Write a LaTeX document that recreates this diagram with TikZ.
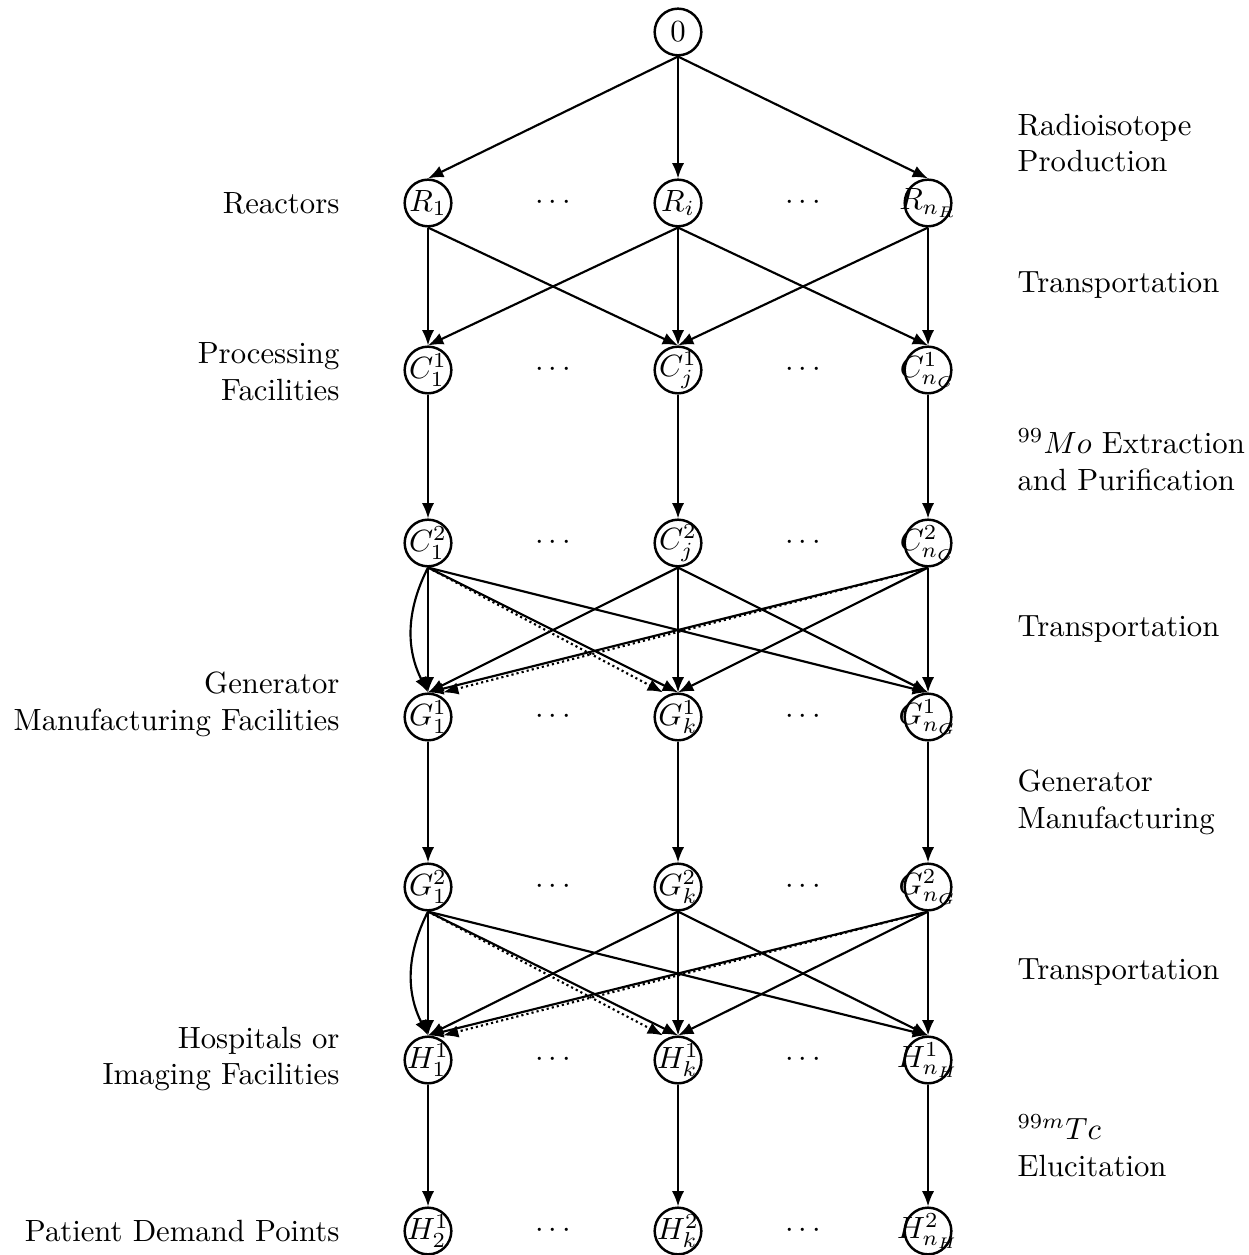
\documentclass[tikz,border=0pt]{standalone}
\usetikzlibrary{arrows.meta}
\newcommand{\vlab}[1]{\makebox[0pt][c]{$#1$}}
\begin{document}
\begin{tikzpicture}[x=0.3257pt,y=-0.3257pt,
  vnode/.style={circle,draw,line width=0.8pt,minimum size=15.2pt,inner sep=0pt},
  edge/.style={-{Latex[length=5pt,width=4pt]},line width=0.7pt},
  dotedge/.style={edge,densely dotted},
  lefttext/.style={anchor=east,align=right,inner sep=0pt},
  righttext/.style={anchor=west,align=left,inner sep=0pt}]
\useasboundingbox (0,0) rectangle (1248,1255);
% nodes
\node[vnode] (O) at (678,32) {\vlab{0}};
\node[vnode] (R1) at (428,203) {\vlab{R_1}};
\node[vnode] (Ri) at (678,203) {\vlab{R_i}};
\node[vnode] (Rn) at (928,203) {\vlab{R_{n_R}}};
\node[vnode] (C11) at (428,370) {\vlab{C^1_1}};
\node[vnode] (C1j) at (678,370) {\vlab{C^1_j}};
\node[vnode] (C1n) at (928,370) {\vlab{C^1_{n_C}}};
\node[vnode] (C21) at (428,543) {\vlab{C^2_1}};
\node[vnode] (C2j) at (678,543) {\vlab{C^2_j}};
\node[vnode] (C2n) at (928,543) {\vlab{C^2_{n_C}}};
\node[vnode] (G11) at (428,717) {\vlab{G^1_1}};
\node[vnode] (G1k) at (678,717) {\vlab{G^1_k}};
\node[vnode] (G1n) at (928,717) {\vlab{G^1_{n_G}}};
\node[vnode] (G21) at (428,887) {\vlab{G^2_1}};
\node[vnode] (G2k) at (678,887) {\vlab{G^2_k}};
\node[vnode] (G2n) at (928,887) {\vlab{G^2_{n_G}}};
\node[vnode] (H11) at (428,1060) {\vlab{H^1_1}};
\node[vnode] (H1k) at (678,1060) {\vlab{H^1_k}};
\node[vnode] (H1n) at (928,1060) {\vlab{H^1_{n_H}}};
\node[vnode] (H21) at (428,1231) {\vlab{H^1_2}};
\node[vnode] (H2k) at (678,1231) {\vlab{H^2_k}};
\node[vnode] (H2n) at (928,1231) {\vlab{H^2_{n_H}}};
% dots
\foreach \yy/\nm in {203/a,370/b,543/c,717/d,887/e,1060/f,1231/g}{
  \node (dl\nm) at (553,\yy) {$\cdots$};
  \node (dr\nm) at (803,\yy) {$\cdots$};
}
% left labels
\node[lefttext] (lR) at (340,203) {Reactors};
\node[lefttext] (lC) at (340,372) {Processing\\Facilities};
\node[lefttext] (lG) at (340,704) {Generator\\Manufacturing Facilities};
\node[lefttext] (lH) at (340,1059) {Hospitals or\\Imaging Facilities};
\node[lefttext] (lP) at (340,1231) {Patient Demand Points};
% right labels
\node[righttext] (t1) at (1017,143) {Radioisotope\\Production};
\node[righttext] (t2) at (1017,285) {Transportation};
\node[righttext] (t3) at (1017,460) {$^{99}Mo$ Extraction\\and Purification};
\node[righttext] (t4) at (1017,629) {Transportation};
\node[righttext] (t5) at (1017,802) {Generator\\Manufacturing};
\node[righttext] (t6) at (1017,972) {Transportation};
\node[righttext] (t7) at (1017,1146) {$^{99m}Tc$\\Elucitation};
% edges
\foreach \t in {R1,Ri,Rn} \draw[edge] (O.south) -- (\t.north);
\foreach \s/\t in {R1/C11,R1/C1j,Ri/C11,Ri/C1j,Ri/C1n,Rn/C1j,Rn/C1n,
  C11/C21,C1j/C2j,C1n/C2n,G11/G21,G1k/G2k,G1n/G2n,H11/H21,H1k/H2k,H1n/H2n}
  \draw[edge] (\s.south) -- (\t.north);
% transportation layers
\foreach \a/\b/\c/\x/\y/\z in {C21/C2j/C2n/G11/G1k/G1n, G21/G2k/G2n/H11/H1k/H1n}{
  \draw[edge] (\a.south) to[bend right=27] (\x.north);
  \foreach \s in {\a,\b,\c}
    \foreach \t in {\x,\y,\z}
      \draw[edge] (\s.south) -- (\t.north);
  \draw[dotedge] (\a.south) -- ([xshift=-15*0.3257pt]\y.north);
  \draw[dotedge] (\c.south) -- ([xshift=15*0.3257pt]\x.north);
}
\end{tikzpicture}
\end{document}
